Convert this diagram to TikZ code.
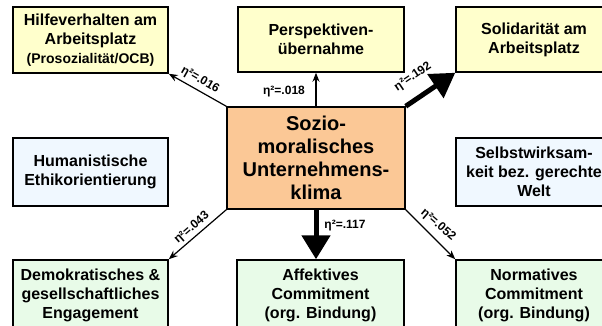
\documentclass[tikz,border=0pt]{standalone}
\usepackage{fontspec}
\setmainfont{Liberation Sans}
\usetikzlibrary{arrows.meta}
\definecolor{boxyellow}{HTML}{FFFFCC}
\definecolor{boxorange}{HTML}{FBC896}
\definecolor{boxblue}{HTML}{F0F8FF}
\definecolor{boxgreen}{HTML}{E8FBE8}
\tikzset{
  box/.style={draw=black, line width=1.5pt, rectangle, align=center, inner sep=0pt,
    font=\bfseries\fontsize{16}{19}\selectfont},
  thinarrow/.style={line width=1.2pt, -{Stealth[length=9pt,width=7pt]}},
  thickarrow/.style={line width=5pt, -{Triangle[length=24pt,width=28pt]}},
  eta/.style={font=\bfseries\fontsize{12}{13}\selectfont, inner sep=0pt}
}
\begin{document}
\begin{tikzpicture}[x=1pt,y=-1pt]
\useasboundingbox (0,0) rectangle (602,326);
\node[box, fill=boxyellow, minimum width=155pt, minimum height=66pt] (hilfe) at (90.5,40)
  {Hilfeverhalten am\\Arbeitsplatz\\{\fontsize{14}{17}\selectfont(Prosozialität/OCB)}};
\node[box, fill=boxyellow, minimum width=166pt, minimum height=65pt] (persp) at (321,39.5)
  {Perspektiven-\\übernahme};
\node[box, fill=boxyellow, minimum width=156pt, minimum height=65pt] (solid) at (534,39.5)
  {Solidarität am\\Arbeitsplatz};
\node[box, fill=boxblue, minimum width=155pt, minimum height=68pt] (human) at (90.5,172)
  {Humanistische\\Ethikorientierung};
\node[box, fill=boxorange, minimum width=178pt, minimum height=102pt,
  font=\bfseries\fontsize{20}{23}\selectfont] (center) at (316,158)
  {Sozio-\\moralisches\\Unternehmens-\\klima};
\node[box, fill=boxblue, minimum width=156pt, minimum height=68pt] (selbst) at (534,172)
  {Selbstwirksam-\\keit bez. gerechte\\Welt};
\node[box, fill=boxgreen, minimum width=155pt, minimum height=70pt] (demo) at (90.5,295)
  {Demokratisches \&\\gesellschaftliches\\Engagement};
\node[box, fill=boxgreen, minimum width=167pt, minimum height=70pt] (affekt) at (320.5,295)
  {Affektives\\Commitment\\(org. Bindung)};
\node[box, fill=boxgreen, minimum width=156pt, minimum height=70pt] (norm) at (534,295)
  {Normatives\\Commitment\\(org. Bindung)};
% connectors
\draw[thinarrow] (center.north west) -- (hilfe.south east);
\draw[thinarrow] (center.north) -- (center.north |- persp.south);
\draw[thickarrow] (center.north east) -- (solid.south west);
\draw[thinarrow] (center.south west) -- (demo.north east);
\draw[thickarrow] (center.south) -- (center.south |- affekt.north);
\draw[thinarrow] (center.south east) -- (norm.north west);
% labels
\node[eta, rotate=-30] (l1) at (200,80) {η²=.016};
\node[eta] (l2) at (284,92) {η²=.018};
\node[eta, rotate=34] (l3) at (413,77) {η²=.192};
\node[eta, rotate=41] (l4) at (192,228) {η²=.043};
\node[eta] (l5) at (345,226) {η²=.117};
\node[eta, rotate=-41] (l6) at (438,225) {η²=.052};
\end{tikzpicture}
\end{document}
